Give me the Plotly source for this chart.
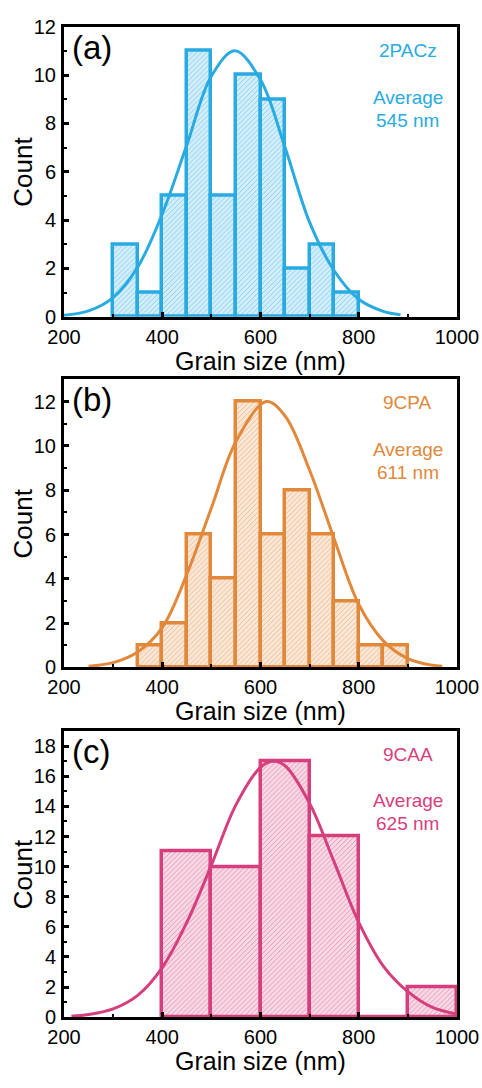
import plotly.graph_objects as go

# ---- data ----
a_edges_left = [300, 350, 400, 450, 500, 550, 600, 650, 700, 750]
a_counts = [3, 1, 5, 11, 5, 10, 9, 2, 3, 1]
a_fit_x = [200, 250, 300, 350, 400, 450, 500, 548, 600, 650, 700, 750, 800, 850, 885]
a_fit_y = [0.06, 0.24, 0.79, 2.05, 4.25, 7.1, 9.96, 11.0, 9.8, 7.0, 3.9, 1.9, 0.72, 0.22, 0.08]

b_edges_left = [350, 400, 450, 500, 550, 600, 650, 700, 750, 800, 850]
b_counts = [1, 2, 6, 4, 12, 6, 8, 6, 3, 1, 1]
b_fit_x = [250, 300, 350, 400, 450, 500, 550, 612, 650, 700, 750, 800, 850, 900, 950, 970]
b_fit_y = [0.06, 0.22, 0.7, 1.8, 4.2, 7.2, 10.2, 12.0, 11.35, 8.9, 5.8, 2.85, 1.2, 0.4, 0.1, 0.06]

c_edges_left = [400, 500, 600, 700, 800, 900]
c_counts = [11, 10, 17, 12, 0, 2]
c_fit_x = [215, 250, 300, 350, 400, 450, 500, 550, 600, 625, 650, 700, 750, 800, 850, 900, 950, 1000]
c_fit_y = [0.07, 0.18, 0.55, 1.45, 3.3, 6.3, 10.1, 14.1, 16.6, 17.0, 16.7, 14.2, 10.3, 6.3, 3.4, 1.7, 0.65, 0.2]

panels = [
    dict(label="(a)", name="2PACz", avg="545 nm", left=a_edges_left, counts=a_counts, width=50,
         fx=a_fit_x, fy=a_fit_y, color="#29ABE2", light="rgba(41,171,226,0.2)", ymax=12,
         dom=[1 - 312 / 1088, 1 - 16 / 1088]),
    dict(label="(b)", name="9CPA", avg="611 nm", left=b_edges_left, counts=b_counts, width=50,
         fx=b_fit_x, fy=b_fit_y, color="#E2883A", light="rgba(226,136,58,0.2)", ymax=13,
         dom=[1 - 670 / 1088, 1 - 376 / 1088]),
    dict(label="(c)", name="9CAA", avg="625 nm", left=c_edges_left, counts=c_counts, width=100,
         fx=c_fit_x, fy=c_fit_y, color="#D63F7E", light="rgba(214,63,126,0.2)", ymax=19,
         dom=[1 - 1027 / 1088, 1 - 735 / 1088]),
]

FONT = "Arial, Liberation Sans, sans-serif"
fig = go.Figure()
annotations = []
for i, p in enumerate(panels):
    n = "" if i == 0 else str(i + 1)
    xa, ya = "x" + n, "y" + n
    centers = [l + p["width"] / 2 for l in p["left"]]
    fig.add_trace(go.Bar(
        x=centers, y=p["counts"], width=p["width"], xaxis=xa, yaxis=ya,
        marker=dict(color=p["light"], line=dict(color=p["color"], width=3.5),
                    pattern=dict(shape="/", fgcolor=p["color"], bgcolor=p["light"],
                                 size=3.5, solidity=0.25, fillmode="overlay")),
        showlegend=False, hoverinfo="x+y"))
    fig.add_trace(go.Scatter(
        x=p["fx"], y=p["fy"], mode="lines", line=dict(color=p["color"], width=3, shape="spline"),
        xaxis=xa, yaxis=ya, showlegend=False, cliponaxis=True))
    ax = dict(domain=[0, 1], range=[200, 1000], anchor=ya, showline=True, mirror=True,
              linewidth=3, linecolor="black", ticks="inside", ticklen=5, tickwidth=2.5,
              tickcolor="black", dtick=200, tick0=200, showgrid=False, zeroline=False,
              tickfont=dict(family=FONT, size=20, color="black"),
              minor=dict(ticks="inside", dtick=100, tick0=200, ticklen=3, tickwidth=2, tickcolor="black"))
    yy = dict(domain=p["dom"], range=[0, p["ymax"]], anchor=xa, showline=True, mirror=True,
              linewidth=3, linecolor="black", ticks="inside", ticklen=5, tickwidth=2.5,
              tickcolor="black", dtick=2, tick0=0, showgrid=False, zeroline=False,
              tickfont=dict(family=FONT, size=20, color="black"), ticklabelstandoff=1,
              minor=dict(ticks="inside", dtick=1, tick0=0, ticklen=3, tickwidth=2, tickcolor="black"))
    fig.layout["xaxis" + n] = ax
    fig.layout["yaxis" + n] = yy
    dx, dy = xa + " domain", ya + " domain"
    annotations.append(dict(text="Grain size (nm)", x=0.5, y=0, xref=dx, yref=dy, yshift=-29,
                            xanchor="center", yanchor="top", showarrow=False, borderpad=0,
                            font=dict(family=FONT, size=25, color="black")))
    annotations.append(dict(text="Count", x=0, y=0.5, xref=dx, yref=dy, xshift=-41, textangle=-90,
                            xanchor="center", yanchor="middle", showarrow=False,
                            font=dict(family=FONT, size=26, color="black")))
    annotations.append(dict(text=p["label"], x=0.015, y=1.0, xref=dx, yref=dy,
                            xanchor="left", yanchor="top", showarrow=False,
                            font=dict(family=FONT, size=33, color="black")))
    annotations.append(dict(text=p["name"], x=0.875, y=1 - 24 / 296, xref=dx, yref=dy,
                            xanchor="center", yanchor="middle", showarrow=False,
                            font=dict(family=FONT, size=19, color=p["color"])))
    annotations.append(dict(text="Average", x=0.875, y=1 - 72 / 296, xref=dx, yref=dy,
                            xanchor="center", yanchor="middle", showarrow=False,
                            font=dict(family=FONT, size=19, color=p["color"])))
    annotations.append(dict(text=p["avg"], x=0.875, y=1 - 96 / 296, xref=dx, yref=dy,
                            xanchor="center", yanchor="middle", showarrow=False,
                            font=dict(family=FONT, size=19, color=p["color"])))

fig.update_layout(width=482, height=1088, margin=dict(l=64, r=25, t=0, b=0),
                  plot_bgcolor="white", paper_bgcolor="white", bargap=0,
                  annotations=annotations, font=dict(family=FONT))
fig.write_html("out.html")
